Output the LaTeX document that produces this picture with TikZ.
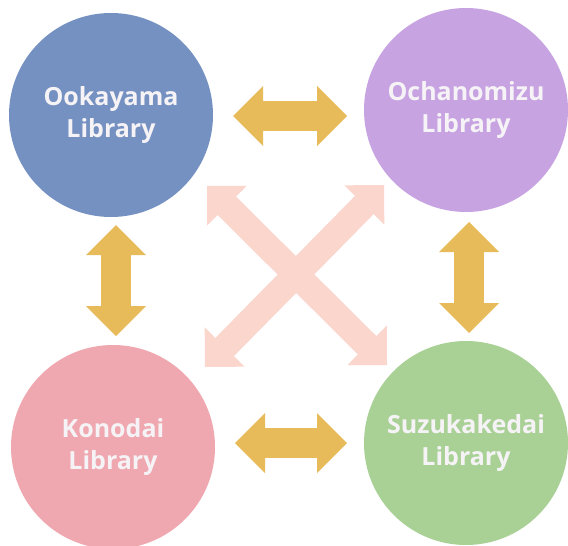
\documentclass[tikz,border=0pt]{standalone}
\usepackage{fontspec}
\setmainfont{Open Sans}
\usetikzlibrary{%
	arrows.meta%
}
\definecolor{okblue}{RGB}{117,145,193}
\definecolor{ocpurple}{RGB}{199,163,226}
\definecolor{kopink}{RGB}{239,167,176}
\definecolor{suzgreen}{RGB}{169,209,150}
\definecolor{gold}{RGB}{232,187,90}
\definecolor{blush}{RGB}{250,214,205}
\definecolor{libtext}{RGB}{246,243,246}
\tikzset{
	lib/.style={circle,minimum size=204pt,inner sep=0pt,align=center,
		text=libtext,font=\fontsize{25}{32}\selectfont\bfseries},
	link/.style={gold,line width=30pt,{Triangle[length=30pt,width=60pt,line width=0pt]}-{Triangle[length=30pt,width=60pt,line width=0pt]}},
	cross/.style={blush,line width=26pt,{Triangle[length=28pt,width=56pt,line width=0pt]}-{Triangle[length=28pt,width=56pt,line width=0pt]}}
}

\begin{document}
\begin{tikzpicture}[x=1pt,y=-1pt]
			\useasboundingbox[fill=white] (0,0) rectangle (568,546);
			% the four libraries
			\node[lib,fill=okblue] (ok) at (111,115) {Ookayama\\Library};
			\node[lib,fill=ocpurple] (oc) at (466,110) {Ochanomizu\\Library};
			\node[lib,fill=kopink] (ko) at (113,447) {Konodai\\Library};
			\node[lib,fill=suzgreen] (su) at (466,443) {Suzukakedai\\Library};
			% arrow ends
			\coordinate (okE) at (233,116);
			\coordinate (ocW) at (347,116);
			\coordinate (koE) at (235,443);
			\coordinate (suW) at (347,443);
			\coordinate (okS) at (116,225);
			\coordinate (koN) at (116,336);
			\coordinate (ocS) at (469,222);
			\coordinate (suN) at (469,333);
			\coordinate (x1) at (207,186);
			\coordinate (x2) at (387,365);
			\coordinate (x3) at (205,367);
			\coordinate (x4) at (384,185);
			\draw[cross] (x1) -- (x2);
			\draw[cross] (x3) -- (x4);
			\draw[link] (okE) -- (ocW);
			\draw[link] (koE) -- (suW);
			\draw[link] (okS) -- (koN);
			\draw[link] (ocS) -- (suN);
		\end{tikzpicture}
\end{document}
